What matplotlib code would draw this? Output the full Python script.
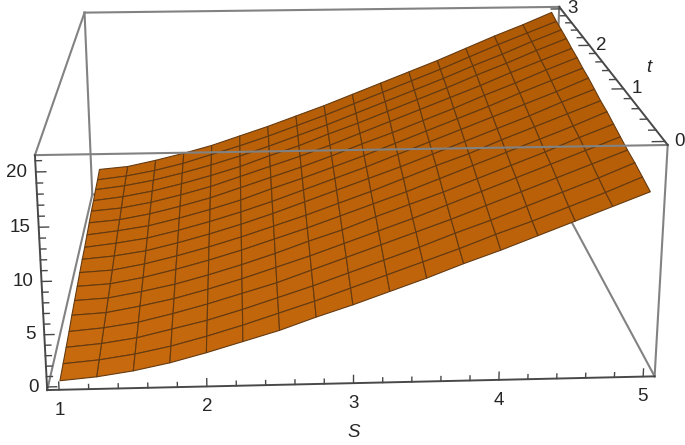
import numpy as np
import matplotlib
matplotlib.use('Agg')
import matplotlib.pyplot as plt
from mpl_toolkits.mplot3d import proj3d

plt.rcParams['font.family'] = ['Liberation Sans', 'DejaVu Sans']

# Mesh nodes of the surface
S_values = [1.0, 1.25, 1.5, 1.75, 2.0, 2.25, 2.5, 2.75, 3.0, 3.25, 3.5, 3.75, 4.0, 4.25, 4.5, 4.75, 5.0]
t_values = [0.0, 0.1875, 0.375, 0.5625, 0.75, 0.9375, 1.125, 1.3125, 1.5, 1.6875, 1.875, 2.0625, 2.25, 2.4375, 2.625, 2.8125, 3.0]
# Heights: one row per t, one column per S
z_rows = [
    [0.1, 0.4, 0.9, 1.6, 2.5, 3.5, 4.5, 5.7, 6.8, 8.0, 9.2, 10.5, 11.7, 13.0, 14.3, 15.6, 16.9],
    [0.3, 0.6, 1.1, 1.8, 2.7, 3.7, 4.8, 5.9, 7.1, 8.3, 9.5, 10.7, 12.0, 13.2, 14.5, 15.8, 17.2],
    [0.5, 0.8, 1.3, 2.1, 2.9, 3.9, 5.0, 6.1, 7.3, 8.5, 9.7, 11.0, 12.2, 13.5, 14.8, 16.1, 17.5],
    [0.7, 1.0, 1.5, 2.3, 3.2, 4.2, 5.2, 6.4, 7.6, 8.8, 10.0, 11.2, 12.5, 13.8, 15.1, 16.4, 17.7],
    [1.0, 1.2, 1.8, 2.5, 3.4, 4.4, 5.5, 6.6, 7.8, 9.0, 10.2, 11.5, 12.8, 14.1, 15.4, 16.7, 18.0],
    [1.2, 1.4, 2.0, 2.7, 3.6, 4.6, 5.7, 6.9, 8.0, 9.3, 10.5, 11.7, 13.0, 14.3, 15.6, 17.0, 18.3],
    [1.4, 1.6, 2.2, 3.0, 3.9, 4.9, 6.0, 7.1, 8.3, 9.5, 10.7, 12.0, 13.3, 14.6, 15.9, 17.2, 18.6],
    [1.6, 1.8, 2.4, 3.2, 4.1, 5.1, 6.2, 7.3, 8.5, 9.7, 11.0, 12.3, 13.5, 14.9, 16.2, 17.5, 18.8],
    [1.8, 2.1, 2.6, 3.4, 4.3, 5.3, 6.4, 7.6, 8.8, 10.0, 11.2, 12.5, 13.8, 15.1, 16.4, 17.8, 19.1],
    [1.9, 2.3, 2.8, 3.6, 4.5, 5.5, 6.6, 7.8, 9.0, 10.2, 11.5, 12.8, 14.1, 15.4, 16.7, 18.0, 19.4],
    [2.1, 2.5, 3.0, 3.8, 4.7, 5.7, 6.9, 8.0, 9.2, 10.4, 11.7, 13.0, 14.3, 15.6, 17.0, 18.3, 19.6],
    [2.3, 2.6, 3.2, 4.0, 4.9, 6.0, 7.1, 8.2, 9.4, 10.7, 11.9, 13.2, 14.5, 15.9, 17.2, 18.6, 19.9],
    [2.5, 2.8, 3.4, 4.2, 5.1, 6.2, 7.3, 8.4, 9.6, 10.9, 12.2, 13.5, 14.8, 16.1, 17.5, 18.8, 20.1],
    [2.6, 3.0, 3.6, 4.4, 5.3, 6.3, 7.5, 8.6, 9.9, 11.1, 12.4, 13.7, 15.0, 16.4, 17.7, 19.1, 20.4],
    [2.8, 3.2, 3.8, 4.6, 5.5, 6.5, 7.6, 8.8, 10.0, 11.3, 12.6, 13.9, 15.2, 16.6, 17.9, 19.3, 20.6],
    [2.9, 3.3, 3.9, 4.7, 5.7, 6.7, 7.8, 9.0, 10.2, 11.5, 12.8, 14.1, 15.4, 16.8, 18.2, 19.5, 20.8],
    [3.1, 3.4, 4.1, 4.9, 5.8, 6.9, 8.0, 9.2, 10.4, 11.7, 13.0, 14.3, 15.6, 17.0, 18.4, 19.7, 21.1],
]
S_labels = [1, 2, 3, 4, 5]
t_labels = [0, 1, 2, 3]
z_labels = [0, 5, 10, 15, 20]
S_minor = [1.0, 1.2, 1.4, 1.6, 1.8, 2.0, 2.2, 2.4, 2.6, 2.8, 3.0, 3.2, 3.4, 3.6, 3.8, 4.0, 4.2, 4.4, 4.6, 4.8, 5.0]
t_minor = [0.0, 0.2, 0.4, 0.6, 0.8, 1.0, 1.2, 1.4, 1.6, 1.8, 2.0, 2.2, 2.4, 2.6, 2.8, 3.0]
z_minor = list(range(22))

W, H = 685, 445
S0, S1, T0, T1, Z0, Z1 = 0.92, 5.08, -0.06, 3.06, -0.3, 21.5

fig = plt.figure(figsize=(W / 100, H / 100), dpi=100)
A = 445
dx, dy = -11.878, 43.027
ax = fig.add_axes([((W - A) / 2 + dx) / W, dy / H, A / W, A / H],
                  projection='3d', computed_zorder=False)
ax.set_xlim(S0, S1)
ax.set_ylim(T0, T1)
ax.set_zlim(Z0, Z1)
ax.view_init(elev=17.599, azim=-93.108, roll=0.0157)
ax.set_proj_type('persp', focal_length=0.76481)
ax.set_box_aspect((2.49826, 2.5451, 1), zoom=1.72604)
ax.set_axis_off()
ax.apply_aspect()
M = ax.get_proj()

X, Y = np.meshgrid(S_values, t_values)
Z = np.array(z_rows)

c0 = np.array([200, 106, 14]) / 255
c1 = np.array([172, 88, 4]) / 255
w = (0.6 * (X[:-1, :-1] - 1) / 4 + 0.4 * Y[:-1, :-1] / 3)[..., None]
cols = np.dstack([(1 - w) * c0 + w * c1, np.ones(w.shape)])

grey = '#828282'
dark = '#484848'
text_c = '#262626'


def edge(a, b, color, lw, z):
    ax.plot(*zip(a, b), color=color, lw=lw, zorder=z, clip_on=False)


for a, b in (((S0, T1, Z1), (S1, T1, Z1)), ((S0, T1, Z0), (S0, T1, Z1)),
             ((S1, T1, Z0), (S1, T1, Z1)), ((S0, T1, Z0), (S1, T1, Z0)),
             ((S0, T0, Z0), (S0, T1, Z0)), ((S1, T0, Z0), (S1, T1, Z0)),
             ((S0, T0, Z1), (S0, T1, Z1))):
    edge(a, b, grey, 1.5, 1)

surf = ax.plot_surface(X, Y, Z, facecolors=cols, shade=False, rstride=1, cstride=1,
                       edgecolor='#653a10', linewidth=0.8, antialiased=True, zorder=2)
surf.set_clip_on(False)

for a, b in (((S0, T0, Z1), (S1, T0, Z1)), ((S1, T0, Z0), (S1, T0, Z1))):
    edge(a, b, grey, 1.5, 3)
for a, b in (((S0, T0, Z0), (S1, T0, Z0)), ((S0, T0, Z0), (S0, T0, Z1)),
             ((S1, T0, Z1), (S1, T1, Z1))):
    edge(a, b, dark, 1.4, 4)


def label(s, t, z, txt, **kw):
    x, y, _ = proj3d.proj_transform(s, t, z, M)
    ax.text2D(x, y, txt, transform=ax.transData, fontsize=13.5, color=text_c,
              zorder=5, va='center', **kw)


for s in S_minor:
    ln = 0.75 if s in S_labels else 0.45
    ax.plot([s, s], [T0, T0], [Z0, Z0 + ln], color=dark, lw=1, zorder=4, clip_on=False)
for s in S_labels:
    label(s, T0, Z0 - 2.0, str(s), ha='center')
label(3, T0, Z0 - 4.9, 'S', ha='center', style='italic')

for z in z_minor:
    ln = 0.065 if z in z_labels else 0.04
    ax.plot([S0, S0 + ln], [T0, T0], [z, z], color=dark, lw=1, zorder=4, clip_on=False)
for z in z_labels:
    label(S0 - 0.055, T0, z, str(z), ha='right')

for t in t_minor:
    ln = 0.085 if t in t_labels else 0.05
    ax.plot([S1, S1 - ln], [t, t], [Z1, Z1], color=dark, lw=1, zorder=4, clip_on=False)
for t in t_labels:
    label(S1 + 0.1, t, Z1, str(t), ha='center')
label(S1 + 0.32, 1.45, Z1, 't', ha='center', style='italic')

fig.savefig('out.png', dpi=100)
